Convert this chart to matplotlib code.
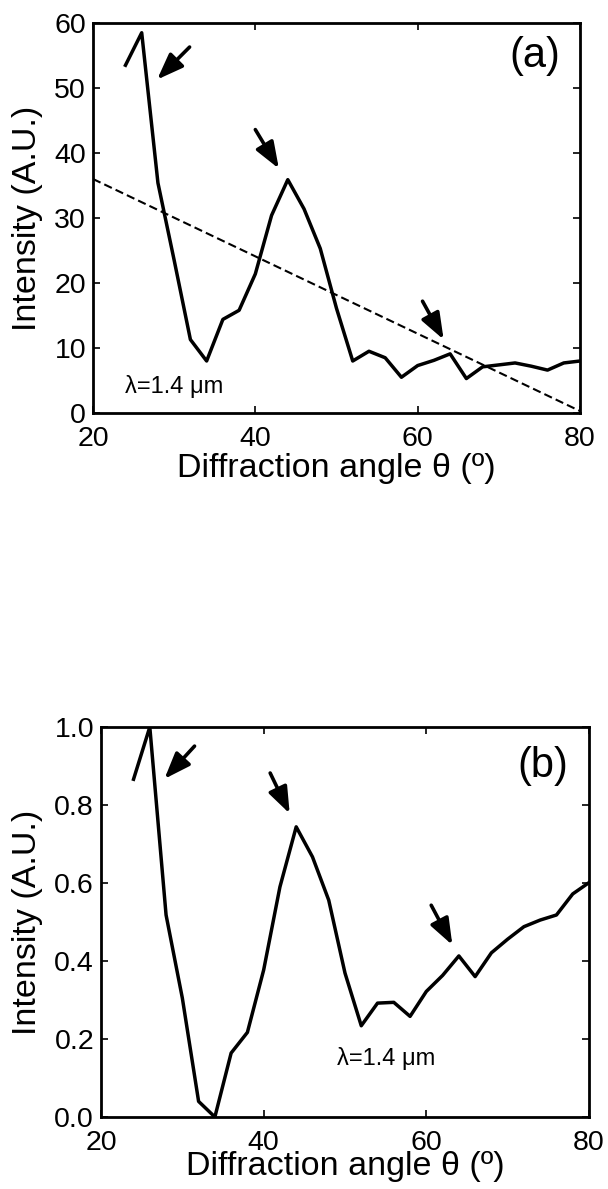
import numpy as np
import matplotlib
matplotlib.use("Agg")
import matplotlib.pyplot as plt

plt.rcParams['font.family'] = ['Liberation Sans', 'DejaVu Sans']

# ---------------- data ----------------
angle = [24, 26, 28, 30, 32, 34, 36, 38, 40, 42, 44, 46, 48, 50, 52,
         54, 56, 58, 60, 62, 64, 66, 68, 70, 72, 74, 76, 78, 80]

# panel (a) raw intensity
intensity_a = [53.5, 58.5, 35.4, 23.5, 11.3, 8.0, 14.4, 15.8, 21.4, 30.4,
               35.9, 31.4, 25.3, 16.1, 8.0, 9.5, 8.5, 5.5, 7.3, 8.1,
               9.1, 5.3, 7.1, 7.4, 7.7, 7.2, 6.6, 7.7, 8.0]
# dashed background trend in panel (a)
trend_x = [20, 80]
trend_y = [36.0, 0.3]

# panel (b) normalised intensity
intensity_b = [0.866, 1.0, 0.518, 0.305, 0.040, 0.0, 0.164, 0.217, 0.377,
               0.590, 0.744, 0.667, 0.556, 0.369, 0.234, 0.292, 0.294,
               0.258, 0.322, 0.363, 0.413, 0.360, 0.421, 0.456, 0.488,
               0.505, 0.518, 0.572, 0.601]

# arrows: (tail_x, tail_y, head_x, head_y)
arrows_a = [(31.9, 56.3, 27.9, 51.3),
            (40.0, 43.6, 42.9, 37.6),
            (60.6, 17.2, 63.2, 11.3)]
arrows_b = [(31.5, 0.951, 27.8, 0.867),
            (40.8, 0.882, 43.2, 0.778),
            (60.6, 0.543, 63.2, 0.441)]

x_ticks = [20, 40, 60, 80]
y_ticks_a = [0, 10, 20, 30, 40, 50, 60]
y_ticks_b = [0.0, 0.2, 0.4, 0.6, 0.8, 1.0]


def style_axes(ax):
    for s in ax.spines.values():
        s.set_linewidth(2.0)
    ax.tick_params(direction='in', top=True, right=True, length=5,
                   width=1.2, labelsize=20.5)
    ax.tick_params(axis='x', pad=9)
    ax.tick_params(axis='y', pad=5)


def draw_arrows(ax, arrows):
    for tx, ty, hx, hy in arrows:
        ax.annotate("", xy=(hx, hy), xytext=(tx, ty),
                    arrowprops=dict(arrowstyle='-|>,head_length=0.8,head_width=0.3',
                                    mutation_scale=20, lw=2.6, color='k',
                                    shrinkA=0, shrinkB=0))


fig = plt.figure(figsize=(6.08, 11.89), dpi=100)

# ---------------- panel (a) ----------------
ax1 = fig.add_axes([93/608, 1-413/1189, 487/608, 390/1189])
ax1.plot(angle, intensity_a, color='k', lw=2.5)
ax1.plot(trend_x, trend_y, color='k', lw=1.5, linestyle=(0, (4, 2)))
draw_arrows(ax1, arrows_a)
ax1.set_xlim(20, 80)
ax1.set_ylim(0, 60)
ax1.set_xticks(x_ticks)
ax1.set_yticks(y_ticks_a)
style_axes(ax1)
ax1.text(74.4, 55, "(a)", fontsize=30, ha='center', va='center')
ax1.text(24, 4.0, "λ=1.4 μm", fontsize=17, ha='left', va='center')
ax1.set_xlabel("Diffraction angle θ (º)", fontsize=24.5)
ax1.set_ylabel("Intensity (A.U.)", fontsize=24.5)
ax1.xaxis.set_label_coords(0.5, -0.102)
ax1.yaxis.set_label_coords(-0.103, 0.5)

# ---------------- panel (b) ----------------
ax2 = fig.add_axes([101/608, 1-1117/1189, 488/608, 390/1189])
ax2.plot(angle, intensity_b, color='k', lw=2.5)
draw_arrows(ax2, arrows_b)
ax2.set_xlim(20, 80)
ax2.set_ylim(0, 1)
ax2.set_xticks(x_ticks)
ax2.set_yticks(y_ticks_b)
ax2.set_yticklabels(["%.1f" % v for v in y_ticks_b])
style_axes(ax2)
ax2.text(74.3, 0.90, "(b)", fontsize=30, ha='center', va='center')
ax2.text(49.0, 0.151, "λ=1.4 μm", fontsize=17, ha='left', va='center')
ax2.set_xlabel("Diffraction angle θ (º)", fontsize=24.5)
ax2.set_ylabel("Intensity (A.U.)", fontsize=24.5)
ax2.xaxis.set_label_coords(0.5, -0.086)
ax2.yaxis.set_label_coords(-0.119, 0.5)

fig.savefig("out.png", dpi=100)
